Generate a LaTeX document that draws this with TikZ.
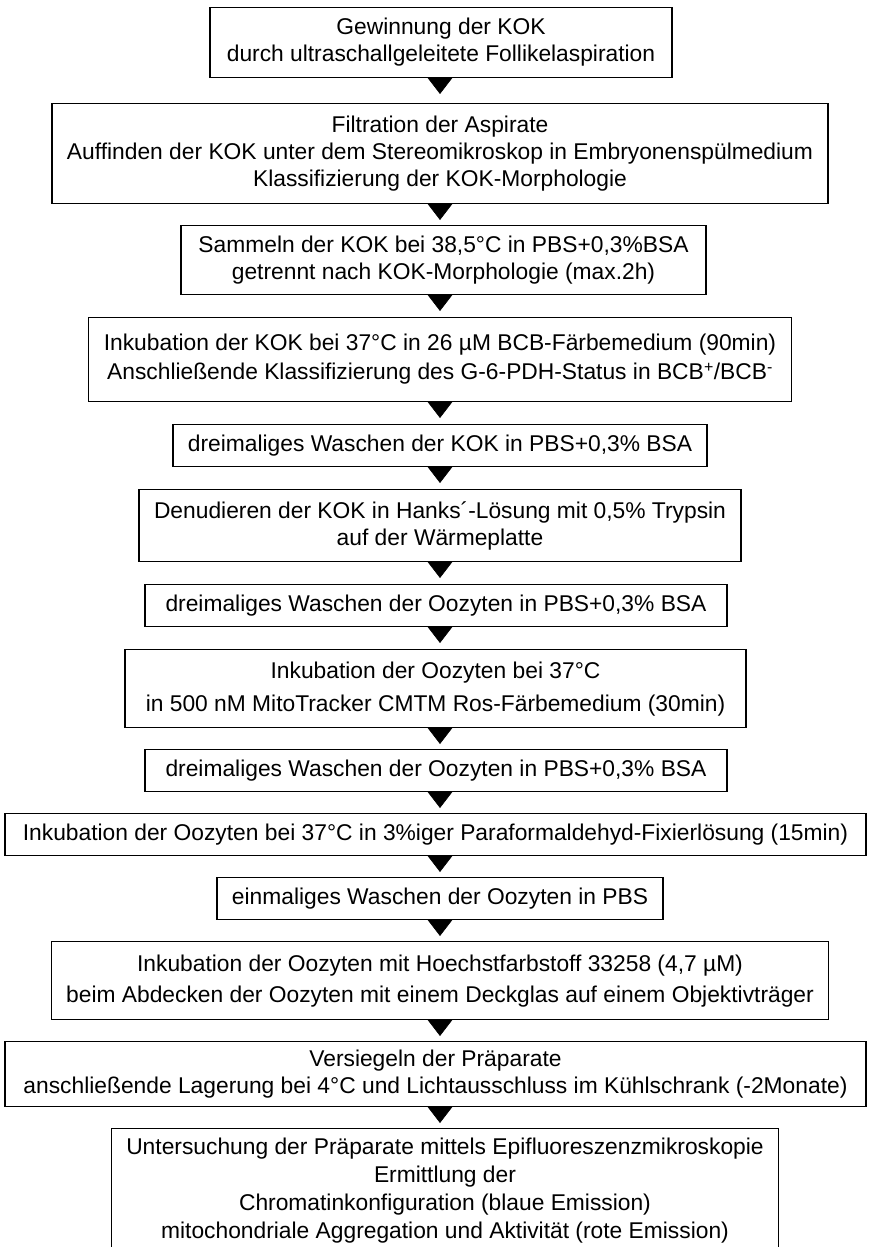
\documentclass[tikz,border=0pt]{standalone}
\usepackage{fontspec}
\setmainfont{Liberation Sans}
\usetikzlibrary{arrows.meta}
\begin{document}
\begin{tikzpicture}[x=1pt,y=-1pt,
  box/.style={draw, line width=1.2pt, align=center, inner xsep=15pt, inner ysep=0pt,
    anchor=north, font=\fontsize{22.8}{27}\selectfont},
  arr/.style={-{Triangle[width=26pt,length=17pt]}, line width=0.6pt}]
\useasboundingbox (0,0) rectangle (870,1247);
\coordinate (ax) at (440,0);
\node[box, minimum width=462pt, minimum height=70pt] (b1) at (441,7)
  {Gewinnung der KOK\\durch ultraschallgeleitete Follikelaspiration};
\node[box, minimum height=100pt] (b2) at (440,103)
  {Filtration der Aspirate\\Auffinden der KOK unter dem Stereomikroskop in Embryonenspülmedium\\Klassifizierung der KOK-Morphologie};
\node[box, minimum width=525pt, minimum height=69pt] (b3) at (443.5,225)
  {Sammeln der KOK bei 38,5°C in PBS+0,3\%BSA\\getrennt nach KOK-Morphologie (max.2h)};
\node[box, minimum height=84pt] (b4) at (440,317)
  {Inkubation der KOK bei 37°C in 26 µM BCB-Färbemedium (90min)\\[2pt]Anschließende Klassifizierung des G-6-PDH-Status in BCB\textsuperscript{+}/BCB\textsuperscript{-}};
\node[box, minimum height=42pt] (b5) at (440,424)
  {dreimaliges Waschen der KOK in PBS+0,3\% BSA};
\node[box, minimum height=72pt] (b6) at (440,489)
  {Denudieren der KOK in Hanks´-Lösung mit 0,5\% Trypsin\\auf der Wärmeplatte};
\node[box, minimum width=582pt, minimum height=42pt] (b7) at (436,584)
  {dreimaliges Waschen der Oozyten in PBS+0,3\% BSA};
\node[box, minimum width=621pt, minimum height=78pt] (b8) at (435.5,649)
  {Inkubation der Oozyten bei 37°C\\[6pt] in 500 nM MitoTracker CMTM Ros-Färbemedium (30min)};
\node[box, minimum width=582pt, minimum height=42pt] (b9) at (436,749)
  {dreimaliges Waschen der Oozyten in PBS+0,3\% BSA};
\node[box, minimum width=861pt, minimum height=42pt] (b10) at (435.5,813)
  {Inkubation der Oozyten bei 37°C in 3\%iger Paraformaldehyd-Fixierlösung (15min)};
\node[box, minimum height=42pt] (b11) at (440,877)
  {einmaliges Waschen der Oozyten in PBS};
\node[box, minimum height=78pt] (b12) at (440,941)
  {Inkubation der Oozyten mit Hoechstfarbstoff 33258 (4,7 µM)\\[4pt]beim Abdecken der Oozyten mit einem Deckglas auf einem Objektivträger};
\node[box, minimum width=861pt, minimum height=65pt] (b13) at (435.5,1041)
  {Versiegeln der Präparate\\anschließende Lagerung bei 4°C und Lichtausschluss im Kühlschrank (-2Monate)};
\node[box, inner ysep=9pt, font=\fontsize{22.8}{28}\selectfont] (b14) at (445,1128)
  {Untersuchung der Präparate mittels Epifluoreszenzmikroskopie\\Ermittlung der\\Chromatinkonfiguration (blaue Emission)\\mitochondriale Aggregation und Aktivität (rote Emission)};
\foreach \a/\b/\s in {b1/b2/9,b2/b3/5,b3/b4/6,b4/b5/6,b5/b6/6,b6/b7/6,b7/b8/6,b8/b9/5,b9/b10/5,b10/b11/5,b11/b12/5,b12/b13/5,b13/b14/5}
  \draw[arr, shorten >=\s pt] (\a.south -| ax) -- (\b.north -| ax);
\end{tikzpicture}
\end{document}
